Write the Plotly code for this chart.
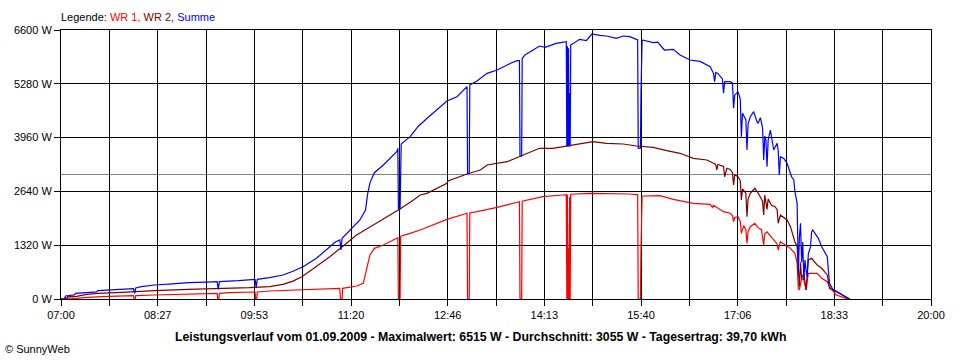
import plotly.graph_objects as go
import pandas as pd

DAY = "2009-09-01"

# ---- data (time, W) ----
wr1_time = ["07:00", "07:03", "07:04", "07:12", "07:21", "07:35", "07:36", "08:05", "08:05:30", "08:06:30", "08:07",
            "08:24", "08:54", "09:20", "09:20:30", "09:21:30", "09:22", "09:30", "09:54", "09:54:30", "09:55:30", "09:56",
            "10:07", "10:49", "11:10", "11:10:30", "11:12", "11:12:30", "11:25", "11:31", "11:34", "11:37", "11:41",
            "11:49", "12:01", "12:02", "12:02:30", "12:04", "12:04:30", "12:05", "12:13", "12:22", "12:46", "13:04",
            "13:04:30", "13:06", "13:06:30", "13:13", "13:31", "13:49", "13:51", "13:51:30", "13:53", "13:53:30",
            "14:12", "14:30", "14:33", "14:33:30", "14:34", "14:34:30", "14:35", "14:35:30", "14:36", "14:36:30",
            "14:37", "14:54", "15:12", "15:30", "15:36", "15:37", "15:37:30", "15:39:30", "15:40", "15:41", "15:42",
            "15:57", "16:09", "16:21", "16:27", "16:42", "16:44", "16:45", "16:54", "17:00", "17:02", "17:03",
            "17:04", "17:07", "17:09", "17:10", "17:12", "17:14", "17:15", "17:16", "17:18", "17:22", "17:25",
            "17:28", "17:30", "17:31", "17:33", "17:36", "17:39", "17:42", "17:43", "17:45", "17:54", "17:58",
            "18:00", "18:01", "18:02", "18:04", "18:06", "18:08", "18:10", "18:13", "18:18", "18:22", "18:27",
            "18:29", "18:35", "18:44", "18:47"]
wr1_watt = [0, 0, 30, 10, 32, 40, 57, 81, 0, 0, 81,
            98, 123, 140, 0, 0, 140, 155, 172, 0, 0, 172,
            196, 238, 262, 0, 0, 262, 319, 385, 712, 1080, 1243,
            1325, 1489, 1500, 0, 0, 1529, 1546, 1611, 1693, 1955, 2103,
            0, 0, 2110, 2142, 2250, 2387, 2387, 0, 0, 2400,
            2510, 2552, 2560, 0, 2560, 0, 1243, 0, 2500, 0,
            2570, 2593, 2593, 2576, 2560, 2560, 0, 0, 1243, 2527, 2527,
            2535, 2446, 2387, 2348, 2323, 2250, 2300, 2142, 2103, 2050, 1897,
            2000, 2019, 1900, 1611, 1800, 1700, 1366, 1650, 1774, 1857, 1750,
            1700, 1325, 1600, 1650, 1550, 1448, 1350, 1202, 1406, 1243, 1121,
            876, 262, 221, 500, 466, 221, 631, 631, 631, 508, 425,
            302, 98, 17, 0]

wr2_time = ["07:00", "07:05", "07:06", "07:13", "07:23", "07:33", "07:54", "08:03", "08:12", "08:24", "08:54",
            "09:24", "09:49", "09:54", "10:07", "10:19", "10:28", "10:36", "10:49", "11:01", "11:13", "11:25",
            "11:40", "11:55", "12:05", "12:16", "12:22", "12:28", "12:46", "12:47", "13:01", "13:04", "13:16",
            "13:22", "13:40", "13:52", "14:09", "14:21", "14:33", "14:42", "14:57", "15:09", "15:24", "15:36",
            "15:51", "16:03", "16:15", "16:27", "16:39", "16:45", "16:47", "16:48", "16:49", "16:54", "16:55",
            "16:57", "17:00", "17:02", "17:03", "17:04", "17:07", "17:09", "17:10", "17:11", "17:14", "17:15",
            "17:16", "17:18", "17:22", "17:25", "17:27", "17:29", "17:30", "17:31", "17:33", "17:34", "17:37",
            "17:40", "17:42", "17:43", "17:45", "17:51", "17:54", "17:58", "18:00", "18:01", "18:02", "18:03",
            "18:04", "18:06", "18:08", "18:10", "18:13", "18:18", "18:22", "18:27", "18:29", "18:35", "18:40",
            "18:47"]
wr2_watt = [0, 0, 57, 60, 115, 140, 164, 180, 196, 204, 238,
            253, 278, 287, 302, 360, 440, 547, 793, 1038, 1300, 1570,
            1816, 2061, 2225, 2429, 2552, 2593, 2839, 2895, 3042, 3067, 3165,
            3288, 3369, 3508, 3697, 3697, 3754, 3778, 3859, 3820, 3803, 3754,
            3722, 3639, 3575, 3452, 3410, 3329, 3300, 3165, 3300, 3250, 3000,
            3207, 3180, 3100, 2797, 3050, 3000, 2900, 2429, 2700, 2600, 2019,
            2450, 2593, 2716, 2600, 2510, 2400, 2061, 2550, 2200, 2450, 2300,
            2265, 2200, 1857, 2061, 1938, 1774, 1400, 1284, 631, 302, 900,
            500, 631, 221, 957, 998, 834, 753, 589, 262, 180, 98,
            0]

sum_time = ["07:00", "07:03", "07:04", "07:12", "07:13", "07:22", "07:23", "07:32", "07:33", "07:42", "07:55",
            "08:03", "08:05", "08:06", "08:07", "08:12", "08:24", "08:40", "08:54", "09:10", "09:20", "09:21",
            "09:22", "09:39", "09:49", "09:54", "09:55", "09:56", "10:07", "10:19", "10:28", "10:37", "10:49",
            "11:01", "11:06", "11:10", "11:11", "11:12", "11:19", "11:28", "11:33", "11:35", "11:37", "11:39",
            "11:41", "11:49", "11:55", "12:01", "12:02", "12:02:30", "12:04", "12:04:30", "12:05", "12:13",
            "12:20", "12:28", "12:37", "12:46", "12:55", "13:04", "13:04:30", "13:06", "13:06:30", "13:13",
            "13:22", "13:31", "13:43", "13:49", "13:51", "13:51:30", "13:53", "13:53:30", "13:56", "14:09",
            "14:14", "14:24", "14:33", "14:33:30", "14:34", "14:34:30", "14:35", "14:35:30", "14:36", "14:36:30",
            "14:37", "14:45", "14:51", "14:56", "15:03", "15:09", "15:18", "15:24", "15:30", "15:36", "15:37",
            "15:37:30", "15:39:30", "15:40", "15:41", "15:51", "15:55", "16:01", "16:09", "16:15", "16:24",
            "16:33", "16:42", "16:45", "16:46", "16:47", "16:49", "16:53", "16:54", "16:55", "17:00", "17:02",
            "17:03", "17:04", "17:07", "17:09", "17:10", "17:11", "17:14", "17:15", "17:16", "17:18", "17:21",
            "17:24", "17:25", "17:27", "17:29", "17:30", "17:31", "17:32", "17:33", "17:34", "17:36", "17:39",
            "17:42", "17:43", "17:44", "17:45", "17:48", "17:51", "17:55", "17:57", "17:58", "18:00", "18:00:30",
            "18:01", "18:02", "18:03", "18:04", "18:05", "18:06", "18:07", "18:08", "18:09", "18:10", "18:12",
            "18:13", "18:14", "18:16", "18:19", "18:22", "18:27", "18:29", "18:32", "18:36", "18:41", "18:44",
            "18:47"]
sum_watt = [0, 0, 75, 100, 140, 150, 165, 175, 205, 220, 235,
            253, 253, 140, 270, 302, 343, 370, 400, 415, 425, 238,
            425, 450, 466, 483, 287, 483, 523, 589, 680, 793, 998,
            1284, 1400, 1450, 1202, 1489, 1693, 1938, 2184, 2593, 2850, 2961,
            3099, 3288, 3450, 3614, 3697, 2208, 2208, 3737, 3803, 3982,
            4227, 4430, 4637, 4858, 4964, 5209, 3084, 3084, 5250, 5349,
            5537, 5619, 5783, 5850, 5850, 3508, 3508, 5900, 5987, 6207,
            6175, 6273, 6314, 3737, 6200, 3760, 6150, 3740, 5054, 3750,
            6232, 6371, 6340, 6502, 6470, 6453, 6396, 6453, 6437, 6355, 6355,
            3697, 3700, 5087, 6355, 6289, 6300, 6109, 6126, 5987, 5864,
            5830, 5700, 5537, 5332, 5560, 5530, 5400, 5047, 5332, 5332, 5300,
            4679, 5000, 5087, 4900, 3982, 4556, 4400, 3656, 4300, 4473, 4596,
            4350, 4311, 4450, 4200, 3410, 4000, 3900, 3246, 3900, 4146, 3656,
            3820, 3650, 3042, 3491, 3450, 3329, 3000, 2920, 2633, 2348, 1284,
            631, 1500, 1857, 900, 1400, 466, 957, 700, 548, 1100, 1284,
            1652, 1693, 1611, 1489, 1284, 1038, 385, 238, 180, 98, 57,
            0]

average_watt = 3055

y_ticks = [0, 1320, 2640, 3960, 5280, 6600]
y_tick_labels = ["0 W", "1320 W", "2640 W", "3960 W", "5280 W", "6600 W"]
x_tick_labels = ["07:00", "08:27", "09:53", "11:20", "12:46", "14:13", "15:40", "17:06", "18:33", "20:00"]

title_text = ("Leistungsverlauf vom 01.09.2009 - Maximalwert: 6515 W - Durchschnitt: 3055 W - "
              "Tagesertrag: 39,70 kWh")

# ---- build ----
def ts(lst):
    out = []
    for t in lst:
        if len(t) == 5:
            t = t + ":00"
        out.append(pd.Timestamp(f"{DAY} {t}"))
    return out

start = pd.Timestamp(f"{DAY} 07:00")
end = pd.Timestamp(f"{DAY} 20:00")
step = (end - start) / 18
x_tickvals = [start + step * k for k in range(19)]
x_ticktext = [x_tick_labels[k // 2] if k % 2 == 0 else "" for k in range(19)]

FONT = "Liberation Sans, Arial, sans-serif"
LW = 1.2

fig = go.Figure()
fig.add_trace(go.Scatter(x=ts(wr1_time), y=wr1_watt, mode="lines", name="WR 1",
                         line=dict(color="#FF0000", width=LW)))
fig.add_trace(go.Scatter(x=ts(wr2_time), y=wr2_watt, mode="lines", name="WR 2",
                         line=dict(color="#800000", width=LW)))
fig.add_trace(go.Scatter(x=ts(sum_time), y=sum_watt, mode="lines", name="Summe",
                         line=dict(color="#0000FF", width=LW)))

fig.add_shape(type="line", xref="paper", x0=0, x1=1, yref="y", y0=average_watt, y1=average_watt,
              line=dict(color="#808080", width=1), layer="below")

fig.update_layout(
    width=960, height=360,
    margin=dict(l=61, r=29, t=30, b=61, pad=0, autoexpand=False),
    paper_bgcolor="white", plot_bgcolor="white",
    showlegend=False,
    font=dict(family=FONT, size=11, color="black"),
    xaxis=dict(type="date", range=[start, end],
               tickmode="array", tickvals=x_tickvals, ticktext=x_ticktext,
               showgrid=True, gridcolor="black", gridwidth=1,
               ticks="outside", ticklen=6, tickcolor="black", tickwidth=1,
               showline=True, linecolor="black", linewidth=1, mirror=True,
               zeroline=False, tickfont=dict(size=11)),
    yaxis=dict(range=[0, 6600], tickmode="array", tickvals=y_ticks, ticktext=y_tick_labels,
               showgrid=True, gridcolor="black", gridwidth=1,
               ticks="outside", ticklen=6, tickcolor="black", tickwidth=1,
               showline=True, linecolor="black", linewidth=1, mirror=True,
               zeroline=False, tickfont=dict(size=11)),
)

fig.add_annotation(xref="paper", yref="paper", x=0, y=(299 - 17) / 269, xanchor="left", yanchor="middle",
                   showarrow=False, font=dict(size=11), xshift=-2,
                   text="Legende: <span style='color:#FF0000'>WR 1,</span> "
                        "<span style='color:#800000'>WR 2,</span> "
                        "<span style='color:#0000FF'>Summe</span>")
fig.add_annotation(xref="paper", yref="paper", x=(480 - 61) / 870, y=(299 - 337) / 269,
                   xanchor="center", yanchor="middle", showarrow=False,
                   font=dict(size=12.3), text="<b>" + title_text + "</b>")
fig.add_annotation(xref="paper", yref="paper", x=(3 - 61) / 870, y=(299 - 349) / 269,
                   xanchor="left", yanchor="middle", showarrow=False,
                   font=dict(size=11), text="© SunnyWeb")

fig.write_html("out.html", config={"displayModeBar": False},
               post_script="document.body.style.margin='0';document.body.style.overflow='hidden';")
